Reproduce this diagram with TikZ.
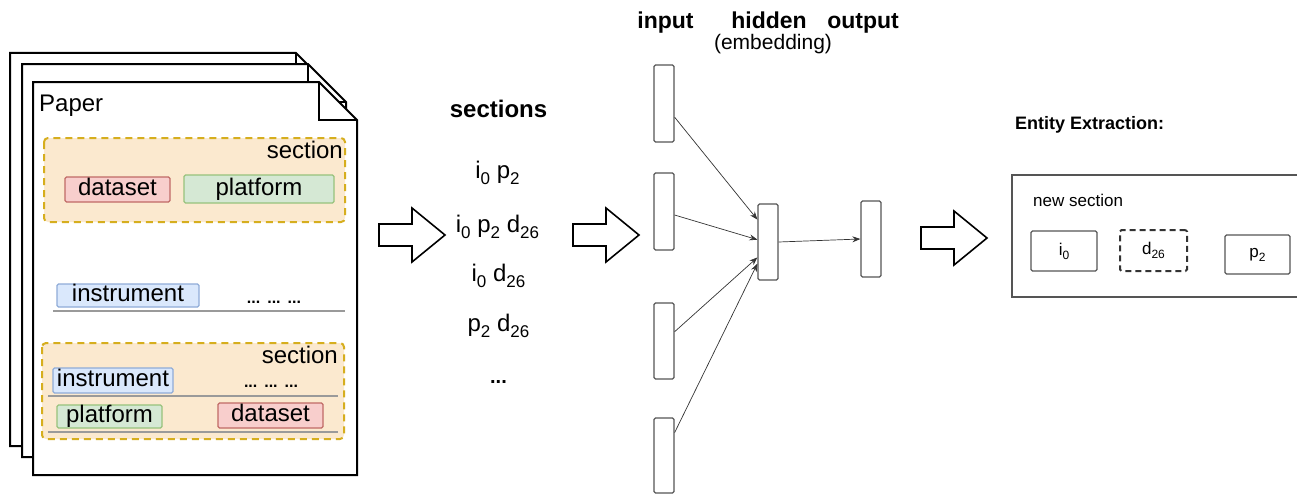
\documentclass[tikz,border=0pt]{standalone}
\usepackage{fontspec}
\setmainfont{Liberation Sans}
\usetikzlibrary{calc,arrows.meta}
\definecolor{secfill}{HTML}{FBE9CF}
\definecolor{secdraw}{HTML}{D6AE1E}
\definecolor{dsfill}{HTML}{F8CECC}
\definecolor{dsdraw}{HTML}{C06A66}
\definecolor{plfill}{HTML}{D5E8D4}
\definecolor{pldraw}{HTML}{97C27C}
\definecolor{infill}{HTML}{DAE8FC}
\definecolor{indraw}{HTML}{8FACD8}
\definecolor{rulegray}{HTML}{9A9A9A}
\definecolor{boxgray}{HTML}{555555}
\newcommand\fs[1]{\fontsize{#1}{#1}\selectfont}
\newcommand\sbs[1]{\raisebox{-6pt}{\fs{17}#1}}
\newcommand\sbm[1]{\raisebox{-4pt}{\fs{12}#1}}
\tikzset{
  pagesheet/.pic={
    \draw[line width=2, fill=white, line join=miter] (0,0) -- (286,0) -- (324,38) -- (324,393) -- (0,393) -- cycle;
    \draw[line width=2] (286,0) -- (286,38) -- (324,38);
  },
  blockarrow/.pic={
    \draw[line width=1.6, fill=white, line join=miter] (0,-11) -- (33,-11) -- (33,-27) -- (66,0) -- (33,27) -- (33,11) -- (0,11) -- cycle;
  },
  secbox/.style={draw=secdraw, fill=secfill, line width=2, dash pattern=on 7pt off 5pt, rounded corners=4},
  tagbox/.style={line width=1.3, rounded corners=1.5, inner sep=0pt, text height=17pt, text depth=5pt, font=\fs{24}},
  dsbox/.style={tagbox, draw=dsdraw, fill=dsfill, minimum width=105, minimum height=25},
  plbox/.style={tagbox, draw=pldraw, fill=plfill},
  inbox/.style={tagbox, draw=indraw, fill=infill},
  txt/.style={inner sep=0pt, font=\fs{24}},
  dots/.style={inner sep=0pt, font=\fs{16}\bfseries},
  rulel/.style={draw=rulegray, line width=1.5},
  layer/.style={draw=boxgray, line width=1.2, rounded corners=1.5, inner sep=0pt, minimum width=20, minimum height=76},
  edge/.style={draw=black!80, line width=0.7, -{Stealth[length=8pt,width=6pt]}},
  head/.style={inner sep=0pt, font=\fs{23}\bfseries},
  entbox/.style={draw=boxgray, line width=1.3, rounded corners=1.5, inner sep=0pt, font=\fs{17}},
}
\begin{document}
\begin{tikzpicture}[x=1pt,y=-1pt]
\useasboundingbox (0,0) rectangle (1297,495);
% pages
\pic (pg3) at (10,53) {pagesheet};
\pic (pg2) at (22,64) {pagesheet};
\pic (pg1) at (33,82) {pagesheet};
\node[txt, anchor=base west] (paper) at (39,111) {Paper};
% section 1
\draw[secbox] (44,138) rectangle (345,222);
\node[txt, anchor=base east] (sec1) at (343,158) {section};
\node[dsbox] (ds1) at (117.5,189.5) {dataset};
\node[plbox, minimum width=150, minimum height=28] (pl1) at (259,189) {platform};
% middle line
\node[inbox, minimum width=142, minimum height=23] (in1) at (128,295.5) {instrument};
\node[dots, anchor=base] (dt1) at (274,303) {...\hspace{7pt}...\hspace{7pt}...};
\coordinate (r1a) at (53,311);
\coordinate (r1b) at (345,311);
\draw[rulel] (r1a) -- (r1b);
% section 2
\draw[secbox] (42,343) rectangle (344,439);
\node[txt, anchor=base east] (sec2) at (338,363) {section};
\node[inbox, minimum width=120, minimum height=25] (in2) at (113,380.5) {instrument};
\node[dots, anchor=base] (dt2) at (271,387) {...\hspace{7pt}...\hspace{7pt}...};
\coordinate (r2a) at (48,396);
\coordinate (r2b) at (338,396);
\draw[rulel] (r2a) -- (r2b);
\node[plbox, minimum width=105, minimum height=23] (pl2) at (109.5,416.5) {platform};
\node[dsbox] (ds2) at (270.5,415.5) {dataset};
\coordinate (r3a) at (48,432);
\coordinate (r3b) at (338,432);
\draw[rulel] (r3a) -- (r3b);
% arrows
\pic (ba1) at (379,235) {blockarrow};
\pic (ba2) at (573,235) {blockarrow};
\pic (ba3) at (921,238) {blockarrow};
% sections list
\node[inner sep=0pt, font=\fs{24}\bfseries, anchor=base] (sects) at (498.5,117) {sections};
\node[txt, anchor=base] (s1) at (497.5,178) {i\sbs{0} p\sbs{2}};
\node[txt, anchor=base] (s2) at (497.5,232) {i\sbs{0} p\sbs{2} d\sbs{26}};
\node[txt, anchor=base] (s3) at (498.5,281) {i\sbs{0} d\sbs{26}};
\node[txt, anchor=base] (s4) at (498.5,331) {p\sbs{2} d\sbs{26}};
\node[dots, font=\fs{20}\bfseries, anchor=base] (s5) at (498.5,383) {...};
% network
\node[head, anchor=base] (hin) at (665.5,29) {input};
\node[head, anchor=base] (hhid) at (769,29) {hidden};
\node[head, anchor=base] (hout) at (863,29) {output};
\node[inner sep=0pt, font=\fs{21}, anchor=base] (hemb) at (773,50) {(embedding)};
\node[layer, minimum height=77] (i1) at (664,103.5) {};
\node[layer, minimum height=77] (i2) at (664,211.5) {};
\node[layer] (i3) at (664,341) {};
\node[layer, minimum height=75] (i4) at (664,455.5) {};
\node[layer] (hid) at (768,242) {};
\node[layer] (out) at (871,239) {};
\draw[edge] ($(i1.north east)!0.675!(i1.south east)$) -- ($(hid.north west)!0.21!(hid.south west)$);
\draw[edge] ($(i2.north east)!0.545!(i2.south east)$) -- ($(hid.north west)!0.47!(hid.south west)$);
\draw[edge] ($(i3.north east)!0.38!(i3.south east)$) -- ($(hid.north west)!0.70!(hid.south west)$);
\draw[edge] ($(i4.north east)!0.2!(i4.south east)$) -- ($(hid.north west)!0.78!(hid.south west)$);
\draw[edge] (hid.east) -- (out.west);
% entity extraction
\node[inner sep=0pt, font=\fs{18}\bfseries, anchor=base west] (ent) at (1015,129) {Entity Extraction:};
\coordinate (nb1) at (1297,175);
\coordinate (nb2) at (1012,175);
\coordinate (nb3) at (1012,297);
\coordinate (nb4) at (1297,297);
\draw[draw=boxgray, line width=1.5] (nb1) -- (nb2) -- (nb3) -- (nb4);
\node[inner sep=0pt, font=\fs{17}, anchor=base west] (newsec) at (1033,206) {new section};
\node[entbox, minimum width=66, minimum height=40] (e1) at (1064,251) {i\sbm{0}};
\node[entbox, draw=black!80, line width=2, dash pattern=on 6pt off 4pt, minimum width=67, minimum height=41] (e2) at (1153.5,250.5) {d\sbm{26}};
\node[entbox, minimum width=65, minimum height=39] (e3) at (1257.5,254.5) {p\sbm{2}};
\end{tikzpicture}
\end{document}
